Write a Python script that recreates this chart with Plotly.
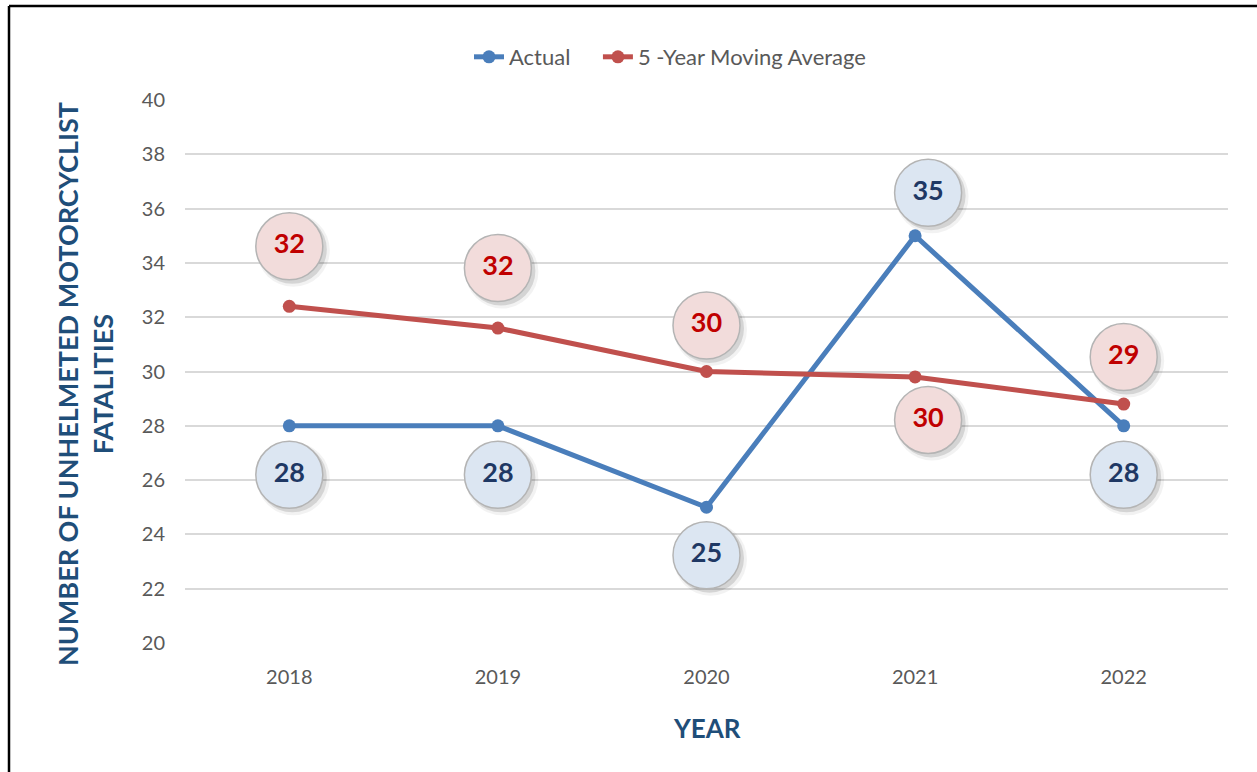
import plotly.graph_objects as go

years = ["2018", "2019", "2020", "2021", "2022"]
actual = [28, 28, 25, 35, 28]
moving_avg = [32.4, 31.6, 30.0, 29.8, 28.8]
actual_labels = ["28", "28", "25", "35", "28"]
avg_labels = ["32", "32", "30", "30", "29"]

W, H = 1257, 772
L, R, T, B = 185, 29, 100, 129
Y_MIN, Y_MAX = 20, 40
px_y = (H - T - B) / (Y_MAX - Y_MIN)
px_x = (W - L - R) / len(years)

FONT = "Lato"
BLUE = "#4A7EBB"
RED = "#C0504D"
TITLE_BLUE = "#1F4E79"

# bubble offsets from their point, in pixels (right, up)
act_off = [(0, -49), (0, -49), (0, -48), (13, 43), (0, -49)]
avg_off = [(0, 60), (0, 60), (0, 46), (13, -43), (0, 47)]


def px2paper(x, y):
    return (x - L) / (W - L - R), (H - B - y) / (H - T - B)


def bubbles(vals, labels, offs, fill, txtcol):
    xs = [i + dx / px_x for i, (dx, dy) in enumerate(offs)]
    ys = [v + dy / px_y for v, (dx, dy) in zip(vals, offs)]
    out = []
    # soft shadow
    for s, a, d in [(73, 0.05, 4), (69, 0.12, 3)]:
        out.append(go.Scatter(x=[x + d / px_x for x in xs], y=[y - d / px_y for y in ys],
                              mode="markers", marker=dict(size=s, color="rgba(0,0,0,%s)" % a, line=dict(width=0)),
                              hoverinfo="skip", showlegend=False, cliponaxis=False))
    out.append(go.Scatter(x=xs, y=ys, mode="markers+text", text=labels, textposition="middle center",
                          marker=dict(size=67, color=fill, line=dict(color="#B4B4B4", width=1.5)),
                          textfont=dict(size=27, color=txtcol, family=FONT, weight="bold"),
                          hoverinfo="skip", showlegend=False, cliponaxis=False))
    return out


xs = list(range(len(years)))
fig = go.Figure()
fig.add_trace(go.Scatter(x=xs, y=actual, name="Actual\u00a0\u00a0\u00a0\u00a0", mode="lines+markers",
                         line=dict(color=BLUE, width=5), marker=dict(size=13, color=BLUE)))
fig.add_trace(go.Scatter(x=xs, y=moving_avg, name="5 -Year Moving Average", mode="lines+markers",
                         line=dict(color=RED, width=5), marker=dict(size=13, color=RED)))
for t in bubbles(actual, actual_labels, act_off, "#DCE6F2", "#1F3864"):
    fig.add_trace(t)
for t in bubbles(moving_avg, avg_labels, avg_off, "#F2DCDB", "#C00000"):
    fig.add_trace(t)

lx, ty = px2paper(9, 6)
_, by = px2paper(9, H + 20)
rx, _ = px2paper(W + 20, 6)
yx, yy = px2paper(85, 384)
xx, xy = px2paper(707, 728)
gx, gy = px2paper(670, 57)

fig.update_layout(
    width=W, height=H,
    margin=dict(l=L, r=R, t=T, b=B),
    paper_bgcolor="white", plot_bgcolor="white",
    font=dict(family=FONT, color="#595959", size=16),
    legend=dict(orientation="h", x=gx, y=gy, xanchor="center", yanchor="middle",
                font=dict(size=22, color="#595959")),
    xaxis=dict(range=[-0.5, 4.5], tickvals=xs, ticktext=years, showgrid=False, zeroline=False,
               showline=False, ticks="", ticklabelstandoff=20, tickfont=dict(size=20, color="#595959")),
    yaxis=dict(range=[Y_MIN, Y_MAX], dtick=2, showgrid=True, gridcolor="#D9D9D9", gridwidth=2,
               zeroline=False, showline=False, ticks="", ticklabelstandoff=19,
               tickfont=dict(size=20, color="#595959")),
    annotations=[
        dict(text="NUMBER OF UNHELMETED MOTORCYCLIST<br>FATALITIES", textangle=-90, x=yx, y=yy,
             xref="paper", yref="paper", showarrow=False, xanchor="center", yanchor="middle",
             font=dict(size=27, color=TITLE_BLUE, family=FONT, weight="bold")),
        dict(text="YEAR", x=xx, y=xy, xref="paper", yref="paper", showarrow=False,
             xanchor="center", yanchor="middle",
             font=dict(size=26, color=TITLE_BLUE, family=FONT, weight="bold")),
    ],
    shapes=[
        dict(type="line", xref="paper", yref="paper", x0=lx, y0=ty, x1=rx, y1=ty,
             line=dict(color="black", width=2.5)),
        dict(type="line", xref="paper", yref="paper", x0=lx, y0=ty, x1=lx, y1=by,
             line=dict(color="black", width=2.5)),
    ],
)

fig.write_html("out.html", config={"displayModeBar": False},
               post_script="document.body.style.margin='0';document.body.style.overflow='hidden';")
